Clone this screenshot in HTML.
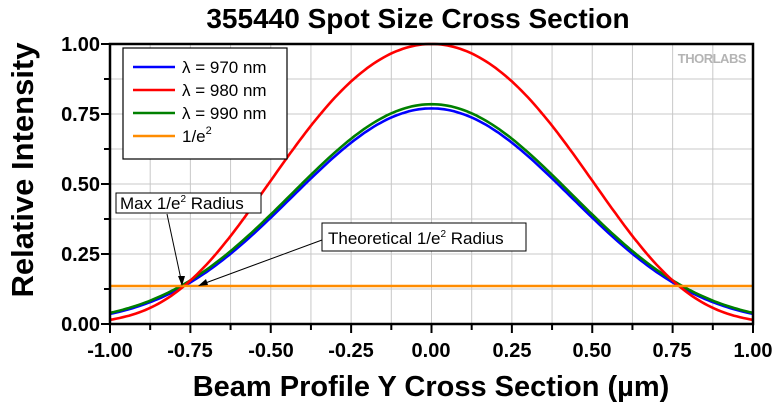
<!DOCTYPE html><html><head><style>body{margin:0;background:#fff}svg{display:block}</style></head><body>
<svg id="s" width="780" height="406" xmlns="http://www.w3.org/2000/svg" font-family="Liberation Sans, Arial, sans-serif">
<rect width="780" height="406" fill="#fff"/>
<g id="grid" stroke="#c8c8c8" stroke-width="1"></g>
<g id="curves" fill="none" stroke-width="2.6"></g>
<line x1="110" y1="286" x2="753" y2="286" stroke="#ff8c00" stroke-width="2.6"/>
<text x="746" y="63" text-anchor="end" font-size="13" font-weight="bold" fill="#b4b4b4" letter-spacing="-0.5">THORLABS</text>
<rect x="110" y="44" width="643" height="280" fill="none" stroke="#000" stroke-width="2.5"/>
<g id="ticks" stroke="#000" stroke-width="2"></g>
<g font-size="20" font-weight="bold" text-anchor="end">
<text x="100" y="51">1.00</text><text x="100" y="121">0.75</text><text x="100" y="191">0.50</text><text x="100" y="261">0.25</text><text x="100" y="331">0.00</text></g>
<g font-size="20" font-weight="bold" text-anchor="middle">
<text x="110" y="357">-1.00</text><text x="190" y="357">-0.75</text><text x="271" y="357">-0.50</text><text x="351" y="357">-0.25</text><text x="431" y="357">0.00</text><text x="512" y="357">0.25</text><text x="592" y="357">0.50</text><text x="672" y="357">0.75</text><text x="753" y="357">1.00</text></g>
<text x="418" y="28" font-size="28" font-weight="bold" text-anchor="middle">355440 Spot Size Cross Section</text>
<text x="431" y="396" font-size="29" font-weight="bold" text-anchor="middle">Beam Profile Y Cross Section (µm)</text>
<text transform="translate(33,170) rotate(-90)" font-size="31" font-weight="bold" text-anchor="middle">Relative Intensity</text>
<rect x="123" y="48" width="164" height="111" fill="#fff" stroke="#000" stroke-width="1.2"/>
<g stroke-width="2.6"><line x1="133" y1="67" x2="175" y2="67" stroke="#0000ff"/><line x1="133" y1="90" x2="175" y2="90" stroke="#ff0000"/><line x1="133" y1="113" x2="175" y2="113" stroke="#008000"/><line x1="133" y1="136" x2="175" y2="136" stroke="#ff8c00"/></g>
<g font-size="17"><text x="182" y="73">λ = 970 nm</text><text x="182" y="96">λ = 980 nm</text><text x="182" y="119">λ = 990 nm</text><text x="182" y="142">1/e<tspan font-size="11" dy="-8">2</tspan></text></g>
<rect x="116" y="193" width="145" height="20" fill="#fff" stroke="#000" stroke-width="1"/>
<text x="120" y="209" font-size="17">Max 1/e<tspan font-size="10" dy="-7">2</tspan><tspan dy="7"> Radius</tspan></text>
<rect x="322" y="223" width="204" height="28" fill="#fff" stroke="#000" stroke-width="1"/>
<text x="328" y="244" font-size="17">Theoretical 1/e<tspan font-size="10" dy="-7">2</tspan><tspan dy="7"> Radius</tspan></text>
<g stroke="#000" stroke-width="1"><line x1="167" y1="214" x2="182" y2="284"/><line x1="322" y1="240" x2="200" y2="285"/></g>
<polygon points="182,286 178,276 185,276" fill="#000"/><polygon points="198,286 206,279 208,285" fill="#000"/>
</svg>
<script>
const X=v=>110+(v+1)*321.5, Y=v=>324-v*280;
let g='';for(let i=1;i<16;i++){const x=110+i*643/16;g+=`<line x1="${x}" y1="44" x2="${x}" y2="324"/>`;}
for(let i=1;i<8;i++){const y=44+i*35;g+=`<line x1="110" y1="${y}" x2="753" y2="${y}"/>`;}
document.getElementById('grid').innerHTML=g;
let t='';for(let i=0;i<=16;i++){const x=110+i*643/16;t+=`<line x1="${x}" y1="324" x2="${x}" y2="${i%2?330:333}"/>`;}
for(let i=0;i<=8;i++){const y=44+i*35;t+=`<line x1="${i%2?104:101}" y1="${y}" x2="110" y2="${y}"/>`;}
document.getElementById('ticks').innerHTML=t;
const cs=[['#0000ff',0.77,2.75,0.31],['#008000',0.785,2.72,0.27],['#ff0000',1,2.17,2.03]];
let c='';for(const [col,p,a,b] of cs){let d='';for(let i=0;i<=200;i++){const x=-1+i/100;const y=p*Math.exp(-a*x*x-b*x*x*x*x);d+=(i?'L':'M')+X(x).toFixed(1)+','+Y(y).toFixed(1);}c+=`<path d="${d}" stroke="${col}"/>`;}
document.getElementById('curves').innerHTML=c;
</script>
</body></html>
